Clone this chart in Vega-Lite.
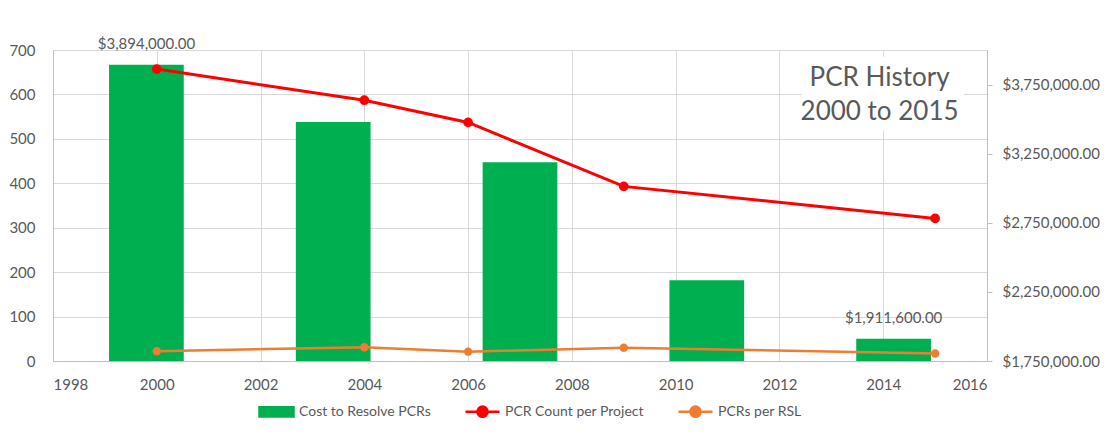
{
  "$schema": "https://vega.github.io/schema/vega-lite/v6.json",
  "width": 934,
  "height": 311,
  "autosize": {"type": "none"},
  "padding": {"left": 53, "top": 50, "right": 124, "bottom": 76},
  "background": "white",
  "config": {
    "font": "Lato",
    "view": {"stroke": null},
    "axis": {"labelFont": "Lato", "labelColor": "#595959", "labelFontSize": 15, "gridColor": "#d9d9d9", "domainColor": "#bfbfbf", "domainWidth": 1, "tickColor": "#bfbfbf", "title": null},
    "legend": {"labelFont": "Lato", "labelColor": "#595959", "labelFontSize": 14}
  },
  "resolve": {"scale": {"x": "independent", "y": "independent"}},
  "layer": [
    {
      "data": {"values": [
        {"cat": "2000", "cost": 3894000},
        {"cat": "2004", "cost": 3479000},
        {"cat": "2006", "cost": 3187000},
        {"cat": "2009", "cost": 2334000},
        {"cat": "2015", "cost": 1911600}
      ]},
      "encoding": {
        "x": {"field": "cat", "type": "ordinal", "sort": null, "scale": {"paddingInner": 0.6, "paddingOuter": 0.3}, "axis": null},
        "y": {"field": "cost", "type": "quantitative", "scale": {"domain": [1750000, 4000000], "nice": false, "zero": false}, "axis": {"orient": "right", "values": [1750000, 2250000, 2750000, 3250000, 3750000], "format": "$,.2f", "grid": false, "ticks": true, "tickSize": 5, "labelPadding": 10, "domain": true}}
      },
      "layer": [
        {"mark": {"type": "bar", "color": "#00B050"}, "encoding": {"y2": {"datum": 1750000}, "color": {"datum": "Cost to Resolve PCRs"}}},
        {
          "transform": [{"filter": "datum.cat === '2000' || datum.cat === '2015'"}],
          "mark": {"type": "text", "baseline": "bottom", "dy": -13, "fontSize": 15, "color": "#595959", "font": "Lato"},
          "encoding": {"text": {"field": "cost", "type": "quantitative", "format": "$,.2f"}}
        }
      ]
    },
    {
      "encoding": {
        "x": {"field": "year", "type": "quantitative", "scale": {"domain": [1998, 2016], "nice": false, "zero": false}, "axis": {"orient": "bottom", "values": [1998, 2000, 2002, 2004, 2006, 2008, 2010, 2012, 2014, 2016], "format": "d", "grid": true, "ticks": false, "tickSize": 0, "labelPadding": 16, "domain": true}},
        "y": {"field": "value", "type": "quantitative", "scale": {"domain": [0, 700], "nice": false}, "axis": {"orient": "left", "values": [0, 100, 200, 300, 400, 500, 600, 700], "grid": true, "ticks": false, "tickSize": 0, "labelPadding": 18, "domain": true}}
      },
      "layer": [
        {
          "data": {"values": [{"x0": 2012.43, "x1": 2015.55, "y0": 519, "y1": 685}]},
          "mark": {"type": "rect", "color": "white"},
          "encoding": {
            "x": {"field": "x0", "type": "quantitative"},
            "x2": {"field": "x1"},
            "y": {"field": "y0", "type": "quantitative"},
            "y2": {"field": "y1"}
          }
        },
        {
          "data": {"values": [{"t": "PCR History", "year": 2013.93, "value": 636}, {"t": "2000 to 2015", "year": 2013.93, "value": 560}]},
          "mark": {"type": "text", "fontSize": 26, "color": "#595959", "font": "Lato", "baseline": "middle", "align": "center"},
          "encoding": {"text": {"field": "t"}}
        },
        {
          "data": {"values": [
            {"year": 2000, "series": "PCR Count per Project", "value": 657},
            {"year": 2004, "series": "PCR Count per Project", "value": 587},
            {"year": 2006, "series": "PCR Count per Project", "value": 537},
            {"year": 2009, "series": "PCR Count per Project", "value": 393},
            {"year": 2015, "series": "PCR Count per Project", "value": 321},
            {"year": 2000, "series": "PCRs per RSL", "value": 22},
            {"year": 2004, "series": "PCRs per RSL", "value": 31},
            {"year": 2006, "series": "PCRs per RSL", "value": 21},
            {"year": 2009, "series": "PCRs per RSL", "value": 30},
            {"year": 2015, "series": "PCRs per RSL", "value": 17}
          ]},
          "encoding": {
            "color": {
              "field": "series", "type": "nominal",
              "scale": {"domain": ["Cost to Resolve PCRs", "PCR Count per Project", "PCRs per RSL"], "range": ["#00B050", "#FF0000", "#ED7D31"]},
              "legend": {
                "title": null, "orient": "none", "direction": "horizontal", "columns": 3,
                "legendX": 205, "legendY": 343, "columnPadding": 29, "symbolSize": 1156, "labelOffset": 4,
                "encode": {"symbols": {"update": {
                  "shape": {"signal": "datum.value === 'Cost to Resolve PCRs' ? 'M-1,-0.27H1V0.27H-1Z' : 'M-1,0H1M0.3,0A0.3,0.3 0 1 1 -0.3,0A0.3,0.3 0 1 1 0.3,0'"},
                  "fill": {"scale": "color", "field": "value"},
                  "stroke": {"scale": "color", "field": "value"},
                  "strokeWidth": {"value": 2.5},
                  "opacity": {"value": 1},
                  "fillOpacity": {"value": 1},
                  "strokeOpacity": {"value": 1}
                }}}
              }
            },
            "strokeWidth": {"condition": {"test": "datum.series === 'PCR Count per Project'", "value": 3}, "value": 2.5}
          },
          "layer": [
            {"mark": {"type": "line"}},
            {"mark": {"type": "point", "filled": true, "opacity": 1}, "encoding": {"size": {"condition": {"test": "datum.series === 'PCR Count per Project'", "value": 95}, "value": 70}, "strokeWidth": {"value": 0}}}
          ]
        }
      ]
    }
  ]
}
